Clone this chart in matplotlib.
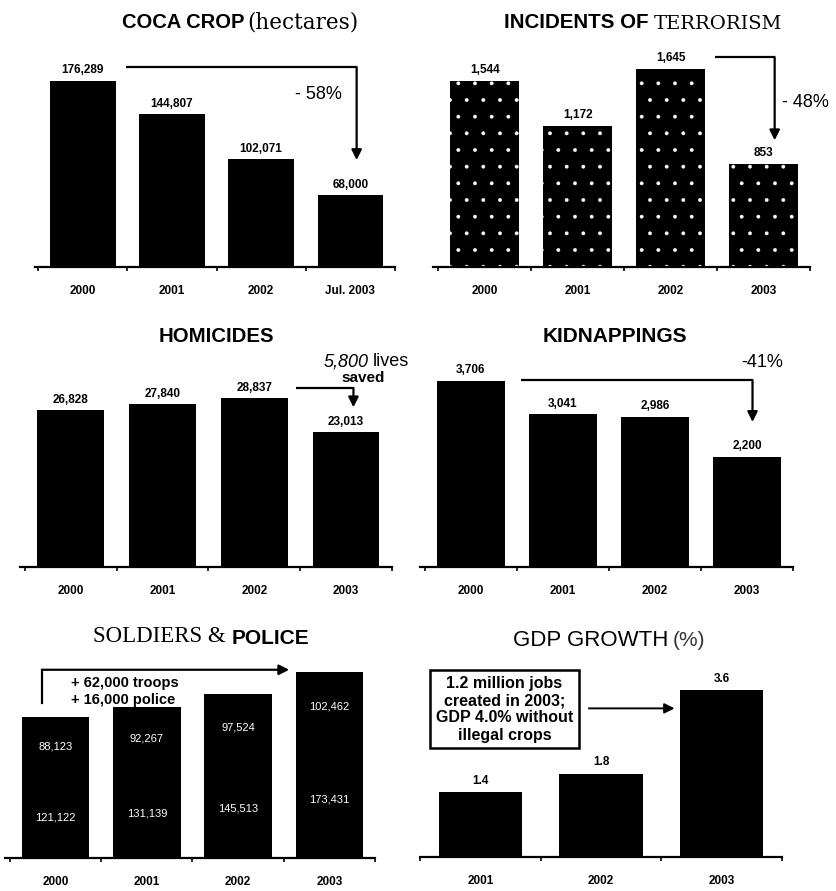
import matplotlib
matplotlib.use("Agg")
import matplotlib.pyplot as plt

# ---------------- data ----------------
coca_years = ["2000", "2001", "2002", "Jul. 2003"]
coca_vals = [176289, 144807, 102071, 68000]
coca_lbls = ["176,289", "144,807", "102,071", "68,000"]

terr_years = ["2000", "2001", "2002", "2003"]
terr_vals = [1544, 1172, 1645, 853]
terr_lbls = ["1,544", "1,172", "1,645", "853"]

hom_years = ["2000", "2001", "2002", "2003"]
hom_vals = [26828, 27840, 28837, 23013]
hom_lbls = ["26,828", "27,840", "28,837", "23,013"]

kid_years = ["2000", "2001", "2002", "2003"]
kid_vals = [3706, 3041, 2986, 2200]
kid_lbls = ["3,706", "3,041", "2,986", "2,200"]

sp_years = ["2000", "2001", "2002", "2003"]
sp_soldiers = [121122, 131139, 145513, 173431]
sp_police = [88123, 92267, 97524, 102462]

gdp_years = ["2001", "2002", "2003"]
gdp_vals = [1.4, 1.8, 3.6]

W, H = 837, 891
fig = plt.figure(figsize=(W / 100, H / 100), dpi=100)
fig.patch.set_facecolor("white")
plt.rcParams["hatch.linewidth"] = 0.3

SANS = "Liberation Sans"
SERIF = "Liberation Serif"
WSERIF = "DejaVu Serif"


def panel(left, right, base, top, c0, c1, n, width_px, vmax, hmax_px):
    ax = fig.add_axes([left / W, 1 - base / H, (right - left) / W, (base - top) / H])
    scale = (c1 - c0) / (n - 1)
    ax.set_xlim(-(c0 - left) / scale, (n - 1) + (right - c1) / scale)
    ax.set_ylim(0, vmax * (base - top) / hmax_px)
    for s in ("top", "right", "left"):
        ax.spines[s].set_visible(False)
    ax.spines["bottom"].set_linewidth(1.6)
    ax.set_yticks([])
    ax.set_xticks(range(n))
    ax.set_xticks([i + 0.5 for i in range(-1, n)], minor=True)
    ax.tick_params(axis="x", which="major", length=0, pad=13)
    ax.tick_params(axis="x", which="minor", length=3, width=1.2, direction="out")
    ax.patch.set_alpha(0)
    return ax, width_px / scale


def ticklabels(ax, labels):
    ax.set_xticklabels(labels, fontsize=8.5, fontweight="bold", family=SANS)


def vlabels(ax, xs, vals, labels, off):
    for x, v, t in zip(xs, vals, labels):
        ax.text(x, v + off, t, ha="center", va="bottom", fontsize=8.5,
                fontweight="bold", family=SANS, clip_on=False)


def elbow(ax, x0, y, x1, y1, lw=1.6):
    ax.plot([x0, x1], [y, y], color="black", lw=lw, clip_on=False, solid_capstyle="butt")
    ax.annotate("", xy=(x1, y1), xytext=(x1, y), xycoords="data",
                arrowprops=dict(arrowstyle="-|>", color="black", lw=lw,
                                mutation_scale=15, shrinkA=0, shrinkB=0),
                annotation_clip=False)


# ---------------- titles ----------------
TS = 14
fig.text(245 / W, 1 - 23 / H, "COCA CROP", ha="right", va="center", fontsize=TS + 0.5,
         family=SANS, fontweight="bold")
fig.text(247 / W, 1 - 22 / H, "(hectares)", ha="left", va="center", fontsize=15.5, family=WSERIF)
fig.text(649 / W, 1 - 23 / H, "INCIDENTS OF", ha="right", va="center", fontsize=TS + 0.8,
         family=SANS, fontweight="bold")
fig.text(654 / W, 1 - 24 / H, "TERRORISM", ha="left", va="center", fontsize=14, family=WSERIF)
fig.text(216 / W, 1 - 337 / H, "HOMICIDES", ha="center", va="center", fontsize=TS + 0.7,
         family=SANS, fontweight="bold")
fig.text(615 / W, 1 - 337 / H, "KIDNAPPINGS", ha="center", va="center", fontsize=TS + 1,
         family=SANS, fontweight="bold")
fig.text(226 / W, 1 - 637 / H, "SOLDIERS &", ha="right", va="center", fontsize=16.5, family=SERIF)
fig.text(232 / W, 1 - 638 / H, "POLICE", ha="left", va="center", fontsize=15, family=SANS,
         fontweight="bold")
fig.text(668 / W, 1 - 640 / H, "GDP GROWTH", ha="right", va="center", fontsize=16, family=SANS)
fig.text(673 / W, 1 - 640 / H, "(%)", ha="left", va="center", fontsize=15, family=SANS,
         color="#333333")

# ---------------- coca ----------------
ax, w = panel(35, 395, 267, 40, 83, 352, 4, 66, coca_vals[0], 186)
xs = range(len(coca_vals))
ax.bar(xs, coca_vals, width=w, color="black")
vlabels(ax, xs, coca_vals, coca_lbls, coca_vals[0] * 0.025)
ticklabels(ax, coca_years)
elbow(ax, 0.49, coca_vals[0] * 1.075, 3.07, coca_vals[0] * 0.575)
ax.text(2.64, coca_vals[0] * 0.93, "- 58%", ha="center", va="center", fontsize=13, family=SANS)

# ---------------- terrorism ----------------
ax, w = panel(433, 810, 267, 40, 485, 766, 4, 70, terr_vals[2], 198)
xs = range(len(terr_vals))
ax.bar(xs, terr_vals, width=w, color="black", edgecolor="white", linewidth=0, hatch=".")
vlabels(ax, xs, terr_vals, terr_lbls, terr_vals[2] * 0.025)
ticklabels(ax, terr_years)
elbow(ax, 2.48, terr_vals[2] * 1.06, 3.12, terr_vals[2] * 0.64)
ax.text(3.2, terr_vals[2] * 0.83, "- 48%", ha="left", va="center", fontsize=13, family=SANS,
        clip_on=False)

# ---------------- homicides ----------------
ax, w = panel(20, 392, 567, 345, 71, 348, 4, 67, hom_vals[2], 169)
xs = range(len(hom_vals))
ax.bar(xs, hom_vals, width=w, color="black")
vlabels(ax, xs, hom_vals, hom_lbls, hom_vals[2] * 0.025)
ticklabels(ax, hom_years)
elbow(ax, 2.45, hom_vals[2] * 1.06, 3.08, hom_vals[2] * 0.945)
ax.text(3.24, hom_vals[2] * 1.215, "5,800", ha="right", va="center",
        fontsize=13, family=SANS, style="italic", clip_on=False)
ax.text(3.29, hom_vals[2] * 1.215, "lives", ha="left", va="center",
        fontsize=13, family=SANS, clip_on=False)
ax.text(3.19, hom_vals[2] * 1.12, "saved", ha="center", va="center",
        fontsize=11, family=SANS, fontweight="bold", clip_on=False)

# ---------------- kidnappings ----------------
ax, w = panel(420, 793, 567, 345, 472, 754, 4, 70, kid_vals[0], 186)
xs = range(len(kid_vals))
ax.bar(xs, kid_vals, width=w, color="black")
vlabels(ax, xs, kid_vals, kid_lbls, kid_vals[0] * 0.025)
ticklabels(ax, kid_years)
elbow(ax, 0.54, kid_vals[0] * 1.005, 3.06, kid_vals[0] * 0.78)
ax.text(3.17, kid_vals[0] * 1.097, "-41%", ha="center", va="center", fontsize=13,
        family=SANS, clip_on=False)

# ---------------- soldiers & police ----------------
tot = [a + b for a, b in zip(sp_soldiers, sp_police)]
ax, w = panel(5, 375, 858, 655, 56, 332, 4, 68, tot[0], 141)
xs = range(len(tot))
ax.bar(xs, sp_soldiers, width=w, color="black")
ax.bar(xs, sp_police, bottom=sp_soldiers, width=w, color="black")
for x, s, p in zip(xs, sp_soldiers, sp_police):
    ax.text(x, s / 2, f"{s:,}", ha="center", va="center", color="white", fontsize=8, family=SANS)
    ax.text(x, s + p / 2, f"{p:,}", ha="center", va="center", color="white", fontsize=8, family=SANS)
ticklabels(ax, sp_years)
yl = tot[0] * 1.335
ax.plot([-0.15, -0.15], [tot[0] * 1.1, yl], color="black", lw=1.6, clip_on=False)
ax.annotate("", xy=(2.56, yl), xytext=(-0.15, yl),
            arrowprops=dict(arrowstyle="-|>", color="black", lw=1.6, mutation_scale=15,
                            shrinkA=0, shrinkB=0), annotation_clip=False)
ax.text(0.17, tot[0] * 1.24, "+ 62,000 troops", ha="left", va="center", fontsize=10.5,
        fontweight="bold", family=SANS)
ax.text(0.17, tot[0] * 1.12, "+ 16,000 police", ha="left", va="center", fontsize=10.5,
        fontweight="bold", family=SANS)

# ---------------- GDP ----------------
ax, w = panel(420, 782, 857, 655, 470, 724, 3, 88, gdp_vals[2], 167)
xs = range(len(gdp_vals))
ax.bar(xs, gdp_vals, width=w, color="black")
vlabels(ax, xs, gdp_vals, [f"{v:.1f}" for v in gdp_vals], gdp_vals[2] * 0.03)
ticklabels(ax, gdp_years)
ax.text(0.2, gdp_vals[2] * 0.885,
        "1.2 million jobs\ncreated in 2003;\nGDP 4.0% without\nillegal crops",
        ha="center", va="center", fontsize=11.5, fontweight="bold", family=SANS,
        linespacing=1.2, clip_on=False,
        bbox=dict(boxstyle="square,pad=0.35", fc="white", ec="black", lw=1.8))
ax.annotate("", xy=(1.61, gdp_vals[2] * 0.89), xytext=(0.9, gdp_vals[2] * 0.89),
            arrowprops=dict(arrowstyle="-|>", color="black", lw=1.4, mutation_scale=15,
                            shrinkA=0, shrinkB=0), annotation_clip=False)

fig.savefig("out.png", dpi=100, facecolor="white")
